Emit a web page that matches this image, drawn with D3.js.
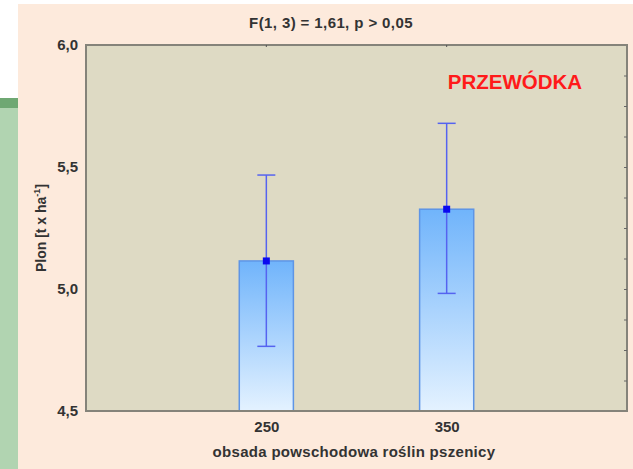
<!DOCTYPE html>
<html>
<head>
<meta charset="utf-8">
<script src="https://cdn.jsdelivr.net/npm/d3@7"></script>
<style>
    body { margin: 0; background: #fff; }
    svg { display: block; font-family: Arial, "Liberation Sans", sans-serif; }
</style>
</head>
<body>
<div id="chart"></div>
<script>
// data
var categories = ['250', '350'];
var means = [5.115, 5.327];
var errLow = [4.765, 4.982];
var errHigh = [5.467, 5.679];
var yTicks = [4.5, 5.0, 5.5, 6.0];

var width = 633;
var height = 469;
var margin = {left: 86, top: 45, right: 6, bottom: 58};

var svg = d3.select('#chart')
    .append('svg')
    .attr('width', width)
    .attr('height', height);

// green slide background on the left, peach chart panel
svg.append('rect').attr('x', 0).attr('y', 98).attr('width', 18).attr('height', 371).attr('fill', '#b1d4b1');
svg.append('rect').attr('x', 0).attr('y', 98).attr('width', 18).attr('height', 10).attr('fill', '#6fa873');
svg.append('rect').attr('x', 18).attr('y', 4).attr('width', width - 18).attr('height', height - 4).attr('fill', '#fdeadc');

var x = d3.scalePoint()
    .domain(categories)
    .range([margin.left, width - margin.right])
    .padding(1);

var y = d3.scaleLinear()
    .domain([4.5, 6.0])
    .range([height - margin.bottom, margin.top]);

var plotW = width - margin.right - margin.left;
var plotH = height - margin.bottom - margin.top;

svg.append('rect')
    .attr('x', margin.left)
    .attr('y', margin.top)
    .attr('width', plotW)
    .attr('height', plotH)
    .attr('fill', '#dedac4');

var grad = svg.append('defs').append('linearGradient')
    .attr('id', 'barfill')
    .attr('x1', 0).attr('y1', 0).attr('x2', 0).attr('y2', 1);
grad.append('stop').attr('offset', '0%').attr('stop-color', '#70b4fb');
grad.append('stop').attr('offset', '100%').attr('stop-color', '#e4f2ff');

var barW = x.step() * 0.3;

// bars
svg.selectAll('.bar')
    .data(means)
    .enter().append('rect')
    .attr('class', 'bar')
    .attr('x', function(d, i) { return x(categories[i]) - barW / 2; })
    .attr('y', function(d) { return y(d); })
    .attr('width', barW)
    .attr('height', function(d) { return y(4.5) - y(d); })
    .attr('fill', 'url(#barfill)')
    .attr('stroke', '#5e95e6')
    .attr('stroke-width', 1.5);

// error bars
var errs = svg.selectAll('.err')
    .data(means)
    .enter().append('g')
    .attr('class', 'err')
    .attr('stroke', '#5563f0')
    .attr('stroke-width', 1.5);
errs.append('line')
    .attr('x1', function(d, i) { return x(categories[i]); })
    .attr('x2', function(d, i) { return x(categories[i]); })
    .attr('y1', function(d, i) { return y(errLow[i]); })
    .attr('y2', function(d, i) { return y(errHigh[i]); });
errs.append('line')
    .attr('x1', function(d, i) { return x(categories[i]) - 9; })
    .attr('x2', function(d, i) { return x(categories[i]) + 9; })
    .attr('y1', function(d, i) { return y(errHigh[i]); })
    .attr('y2', function(d, i) { return y(errHigh[i]); });
errs.append('line')
    .attr('x1', function(d, i) { return x(categories[i]) - 9; })
    .attr('x2', function(d, i) { return x(categories[i]) + 9; })
    .attr('y1', function(d, i) { return y(errLow[i]); })
    .attr('y2', function(d, i) { return y(errLow[i]); });

// mean markers
svg.selectAll('.mean')
    .data(means)
    .enter().append('rect')
    .attr('class', 'mean')
    .attr('x', function(d, i) { return x(categories[i]) - 3.5; })
    .attr('y', function(d) { return y(d) - 3.5; })
    .attr('width', 7)
    .attr('height', 7)
    .attr('fill', '#0a0af0');

// plot border
svg.append('rect')
    .attr('x', margin.left)
    .attr('y', margin.top)
    .attr('width', plotW)
    .attr('height', plotH)
    .attr('fill', 'none')
    .attr('stroke', '#85837a')
    .attr('stroke-width', 2);

// axes
var fmt = function(d) { return d3.format('.1f')(d).replace('.', ','); };

var yAxis = svg.append('g')
    .attr('transform', 'translate(' + (margin.left - 2) + ',0)')
    .call(d3.axisLeft(y).tickValues(yTicks).tickSize(0).tickPadding(6).tickFormat(fmt));
yAxis.select('.domain').remove();
yAxis.selectAll('text')
    .attr('font-size', 15)
    .attr('font-weight', 'bold')
    .attr('fill', '#333');

// small ticks on the right edge
var rAxis = svg.append('g')
    .attr('transform', 'translate(' + (width - margin.right) + ',0)')
    .call(d3.axisLeft(y).tickValues(d3.range(4.625, 6.0, 0.125)).tickSize(3).tickFormat(''));
rAxis.select('.domain').remove();
rAxis.selectAll('line').attr('stroke', '#666');

var xAxis = svg.append('g')
    .attr('transform', 'translate(0,' + (height - margin.bottom) + ')')
    .call(d3.axisBottom(x).tickSize(0).tickPadding(10));
xAxis.select('.domain').remove();
xAxis.selectAll('text')
    .attr('font-size', 15)
    .attr('font-weight', 'bold')
    .attr('fill', '#333');

// tiny ticks on top edge
svg.selectAll('.ttick')
    .data(categories)
    .enter().append('line')
    .attr('x1', function(d) { return x(d); })
    .attr('x2', function(d) { return x(d); })
    .attr('y1', margin.top)
    .attr('y2', margin.top + 2)
    .attr('stroke', '#555');

// texts
svg.append('text')
    .attr('x', 331)
    .attr('y', 27.5)
    .attr('text-anchor', 'middle')
    .attr('font-size', 15)
    .attr('letter-spacing', 0.4)
    .attr('font-weight', 'bold')
    .attr('fill', '#333')
    .text('F(1, 3) = 1,61, p > 0,05');

svg.append('text')
    .attr('x', 515)
    .attr('y', 89)
    .attr('text-anchor', 'middle')
    .attr('font-size', 20.5)
    .attr('font-weight', 'bold')
    .attr('fill', '#ff1a1a')
    .text('PRZEWÓDKA');

var yl = svg.append('text')
    .attr('transform', 'translate(46,228) rotate(-90)')
    .attr('text-anchor', 'middle')
    .attr('font-size', 14)
    .attr('font-weight', 'bold')
    .attr('fill', '#333');
yl.append('tspan').text('Plon [t x ha');
yl.append('tspan').attr('font-size', 9).attr('dy', -6).text('-1');
yl.append('tspan').attr('dy', 6).text(']');

svg.append('text')
    .attr('x', 354)
    .attr('y', 457)
    .attr('text-anchor', 'middle')
    .attr('font-size', 15)
    .attr('letter-spacing', 0.3)
    .attr('font-weight', 'bold')
    .attr('fill', '#333')
    .text('obsada powschodowa roślin pszenicy');
</script>
</body>
</html>
